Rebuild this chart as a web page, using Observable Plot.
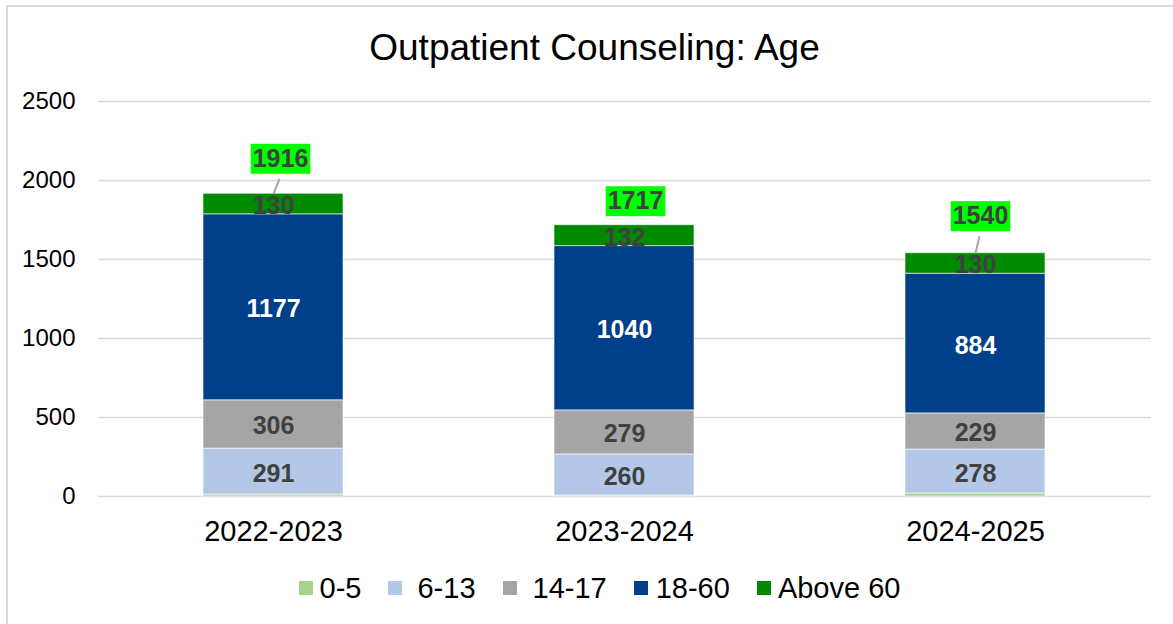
<!DOCTYPE html>
<html>
<head>
<meta charset="utf-8">
<script src="https://cdn.jsdelivr.net/npm/d3@7"></script>
<script src="https://cdn.jsdelivr.net/npm/@observablehq/plot@0.6"></script>
<style>
  html, body { margin: 0; padding: 0; background: #fff; }
  #wrap { position: relative; width: 1173px; height: 624px; overflow: hidden; font-family: "Liberation Sans", Arial, sans-serif; background: #fff; }
  #frame { position: absolute; left: 6px; top: 5px; width: 1300px; height: 800px; border-left: 2px solid #d9d9d9; border-top: 2px solid #d9d9d9; box-sizing: border-box; }
  #title { position: absolute; left: 0; top: 29px; width: 1173px; padding-left: 16px; box-sizing: border-box; text-align: center; font-size: 37px; line-height: 1; color: #000; }
  #chart { position: absolute; left: 0; top: 80px; }
  #legend { position: absolute; left: 0; top: 573px; width: 1173px; padding-left: 26px; box-sizing: border-box; display: flex; justify-content: center; align-items: center; gap: 27px; font-size: 29px; line-height: 30px; color: #000; }
  .item { display: flex; align-items: center; gap: 7px; }
  .sw { width: 14px; height: 14px; display: inline-block; }
</style>
</head>
<body>
<div id="wrap">
  <div id="frame"></div>
  <div id="title"></div>
  <div id="chart"></div>
  <div id="legend"></div>
</div>
<script>
const titleText = "Outpatient Counseling: Age";
const categories = ["2022-2023", "2023-2024", "2024-2025"];
const series = ["0-5", "6-13", "14-17", "18-60", "Above 60"];
const age0to5 = [12, 6, 19];
const age6to13 = [291, 260, 278];
const age14to17 = [306, 279, 229];
const age18to60 = [1177, 1040, 884];
const ageAbove60 = [130, 132, 130];
const totals = [1916, 1717, 1540];
const yTicks = [0, 500, 1000, 1500, 2000, 2500];

// styles / layout (not data)
const seriesColors = ["#a9d18e", "#b4c7e7", "#a5a5a5", "#00408a", "#008a00"];
const totalNudge = [[7, -35, true], [11, -24, false], [5, -37, true]];
const legendTextGap = [7, 15, 16, 8, 7];

const seriesValues = [age0to5, age6to13, age14to17, age18to60, ageAbove60];
const data = [];
series.forEach((s, si) => categories.forEach((c, ci) => data.push({cat: c, series: s, value: seriesValues[si][ci]})));
const totalData = categories.map((c, i) => ({cat: c, total: totals[i]}));

document.getElementById("title").textContent = titleText;

const labelFont = 25;
const boxH = 30;

function totalMark(i) {
  const [ndx, ndy, leader] = totalNudge[i];
  return Plot.text([totalData[i]], {
    x: "cat", y: "total", text: d => String(d.total),
    dx: ndx, dy: ndy, fill: "#404040", fontWeight: "bold", fontSize: labelFont,
    render(index, scales, values, dims, ctx, next) {
      const g = next(index, scales, values, dims, ctx);
      const ns = "http://www.w3.org/2000/svg";
      for (const j of index) {
        const x = values.x[j], y = values.y[j];
        const w = String(totalData[i].total).length * 0.556 * labelFont + 4;
        const r = document.createElementNS(ns, "rect");
        r.setAttribute("x", x - w / 2); r.setAttribute("y", y - boxH / 2);
        r.setAttribute("width", w); r.setAttribute("height", boxH);
        r.setAttribute("fill", "#00ff00");
        g.insertBefore(r, g.firstChild);
        if (leader) {
          const l = document.createElementNS(ns, "line");
          l.setAttribute("x1", x - ndx); l.setAttribute("y1", y - ndy);
          l.setAttribute("x2", x - 1); l.setAttribute("y2", y + boxH / 2 + 5);
          l.setAttribute("stroke", "#a5a5a5"); l.setAttribute("stroke-width", 2);
          g.insertBefore(l, g.firstChild);
        }
      }
      return g;
    }
  });
}

const chart = Plot.plot({
  width: 1173, height: 466,
  marginLeft: 98, marginRight: 22, marginTop: 21, marginBottom: 50,
  style: {fontFamily: "'Liberation Sans', Arial, sans-serif", background: "transparent", overflow: "visible"},
  x: {domain: categories, paddingInner: 0.6, paddingOuter: 0.3, label: null},
  y: {domain: [0, 2500], label: null},
  color: {domain: series, range: seriesColors},
  marks: [
    Plot.gridY(yTicks, {stroke: "#d9d9d9", strokeOpacity: 1, strokeWidth: 1.5}),
    Plot.axisY(yTicks, {tickSize: 0, tickPadding: 23, fontSize: 24, fill: "#000", label: null, tickFormat: d => String(d)}),
    Plot.axisX({tickSize: 0, tickPadding: 24, fontSize: 29, fill: "#000", label: null}),
    Plot.barY(data, {x: "cat", y: "value", fill: "series", stroke: "#ffffff", strokeOpacity: 0.6, strokeWidth: 1}),
    Plot.text(data, Plot.stackY({x: "cat", y: "value", z: "series",
      text: d => (d.series === "0-5" || d.series === "18-60") ? "" : String(d.value),
      fill: "#404040", fontWeight: "bold", fontSize: labelFont, dy: 2})),
    Plot.text(data, Plot.stackY({x: "cat", y: "value", z: "series",
      text: d => d.series === "18-60" ? String(d.value) : "",
      fill: "#ffffff", fontWeight: "bold", fontSize: labelFont, dy: 2})),
    ...categories.map((c, i) => totalMark(i))
  ]
});
document.getElementById("chart").appendChild(chart);

const legend = document.getElementById("legend");
series.forEach((s, i) => {
  const item = document.createElement("div");
  item.className = "item";
  item.style.gap = legendTextGap[i] + "px";
  const sw = document.createElement("span");
  sw.className = "sw"; sw.style.background = seriesColors[i];
  const t = document.createElement("span");
  t.textContent = s;
  item.appendChild(sw); item.appendChild(t);
  legend.appendChild(item);
});
</script>
</body>
</html>
